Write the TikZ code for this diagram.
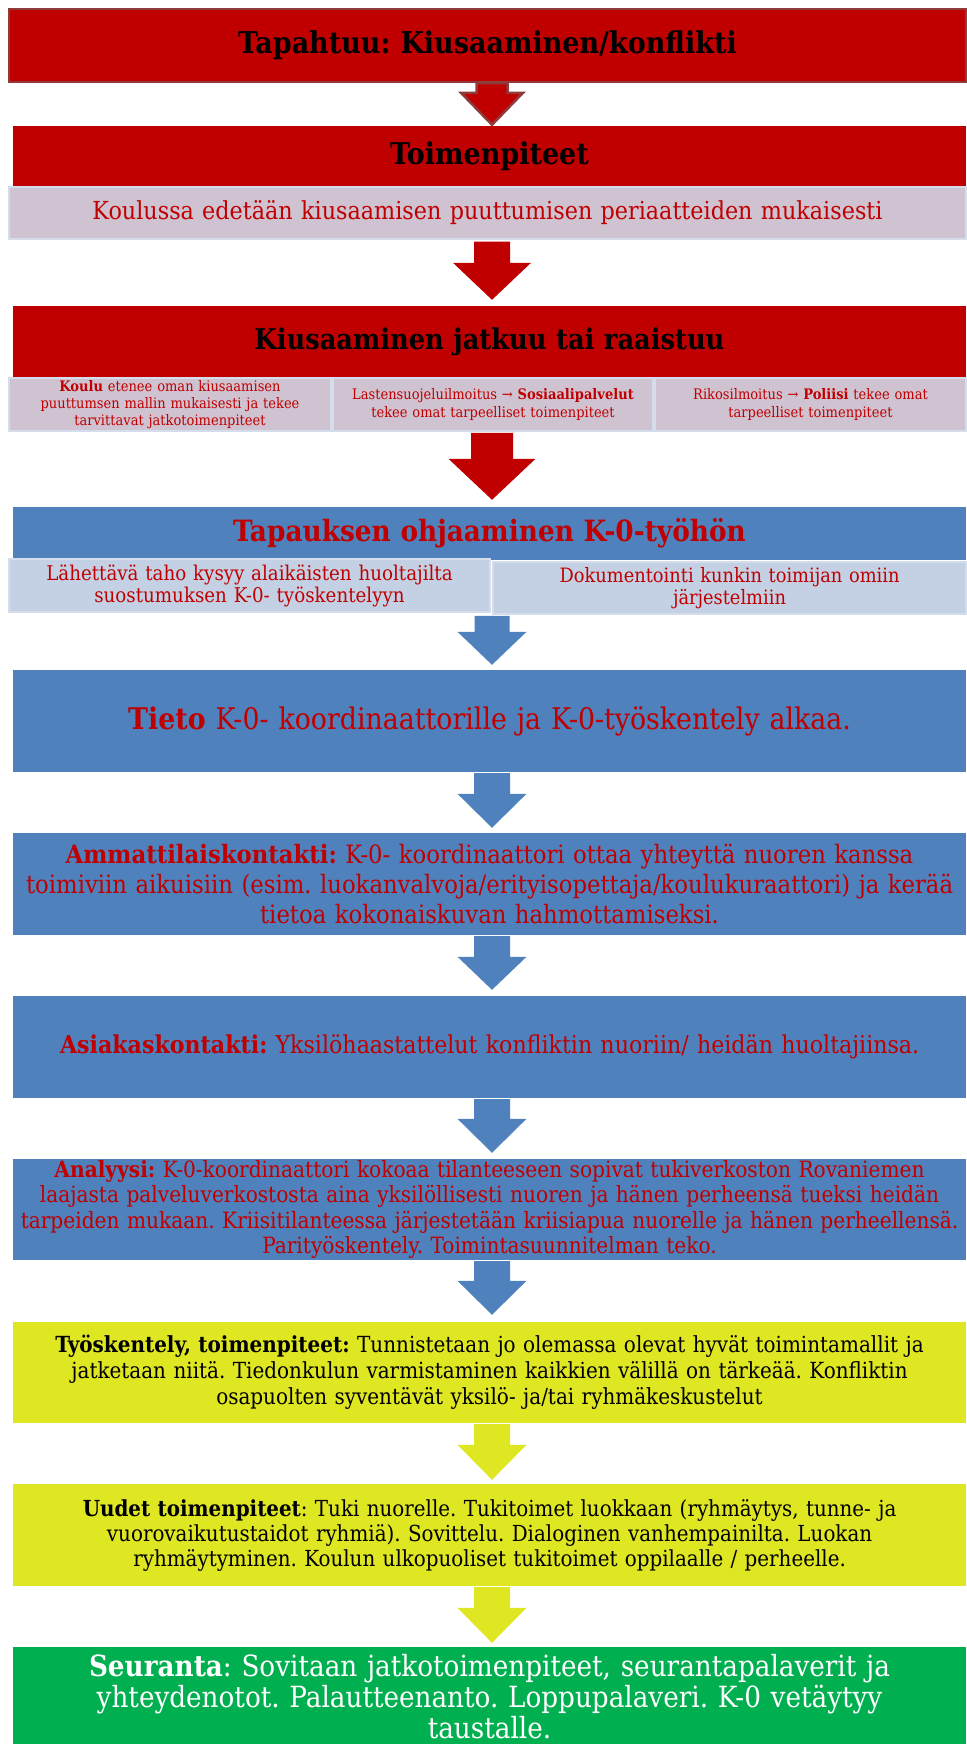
\documentclass[tikz,border=0pt]{standalone}
\usepackage{fontspec}
\setmainfont{DejaVu Serif Condensed}
\usetikzlibrary{calc}
\frenchspacing
\definecolor{rd}{HTML}{C00000}
\definecolor{rdb}{HTML}{8E3B3B}
\definecolor{bl}{HTML}{4F81BD}
\definecolor{lav}{HTML}{CFC2D1}
\definecolor{lbl}{HTML}{C4D0E3}
\definecolor{cellb}{HTML}{D5DCEB}
\definecolor{yl}{HTML}{DFE622}
\definecolor{gr}{HTML}{00B050}
\newcommand\blockarrow[6]{%
  \path[#3] let \p1=(#1), \p2=(#2) in
    (\x1-#4,\y1) -- (\x1+#4,\y1) -- (\x1+#4,\y2+#6) -- (\x1+#5,\y2+#6)
    -- (\x1,\y2) -- (\x1-#5,\y2+#6) -- (\x1-#4,\y2+#6) -- cycle;}
\tikzset{
  box/.style={minimum width=953pt, inner sep=0pt, align=center, text width=950pt},
  redbox/.style={box, fill=rd},
  bluebox/.style={box, fill=bl, text=rd},
  yellowbox/.style={box, fill=yl, text=black},
  greenbox/.style={box, fill=gr, text=white},
  strip/.style={inner sep=0pt, align=center, draw=cellb, line width=1.5pt, text=rd},
  redarrow/.style={fill=rd},
  bluearrow/.style={fill=bl},
  yellowarrow/.style={fill=yl},
  outarrow/.style={fill=rd, draw=rdb, line width=2.5pt, line join=miter},
}
\begin{document}
\begin{tikzpicture}[x=1pt,y=-1pt]
\useasboundingbox (0,0) rectangle (966,1744);
\coordinate (ax) at (492,0);
% boxes
\node[box, fill=rd, draw=rdb, line width=2.5pt, minimum width=957pt, minimum height=73pt,
  font=\fontsize{30}{36}\selectfont\bfseries] (B1) at (487.5,45.5) {Tapahtuu: Kiusaaminen/konflikti};
\node[redbox, minimum height=61pt, font=\fontsize{30}{36}\selectfont\bfseries] (B2) at (489.5,156.5) {Toimenpiteet};
\node[strip, fill=lav, minimum width=957pt, minimum height=52pt, text width=950pt,
  font=\fontsize{24.8}{28}\selectfont] (S2) at (487.5,213) {Koulussa edetään kiusaamisen puuttumisen periaatteiden mukaisesti};
\node[redbox, minimum height=72pt, font=\fontsize{28.6}{34}\selectfont\bfseries] (B3) at (489.5,342) {Kiusaaminen jatkuu tai raaistuu};
\node[strip, fill=lav, minimum width=322pt, minimum height=53pt, text width=318pt,
  font=\fontsize{14.5}{17}\selectfont] (C3a) at (170,404.5)
  {{\bfseries Koulu} etenee oman kiusaamisen\\puuttumsen mallin mukaisesti ja tekee\\tarvittavat jatkotoimenpiteet};
\node[strip, fill=lav, minimum width=320pt, minimum height=53pt, text width=316pt,
  font=\fontsize{14.5}{17.5}\selectfont] (C3b) at (493,404.5)
  {Lastensuojeluilmoitus → {\bfseries Sosiaalipalvelut}\\tekee omat tarpeelliset toimenpiteet};
\node[strip, fill=lav, minimum width=311pt, minimum height=53pt, text width=307pt,
  font=\fontsize{14.5}{17.5}\selectfont] (C3c) at (810.5,404.5)
  {Rikosilmoitus → {\bfseries Poliisi} tekee omat\\tarpeelliset toimenpiteet};
\node[bluebox, minimum height=53pt, font=\fontsize{29.3}{34}\selectfont\bfseries] (B4) at (489.5,533.5) {Tapauksen ohjaaminen K-0-työhön};
\node[strip, fill=lbl, minimum width=481pt, minimum height=53pt, text width=477pt,
  font=\fontsize{20.3}{22}\selectfont] (C4a) at (249.5,585.5)
  {Lähettävä taho kysyy alaikäisten huoltajilta\\suostumuksen K-0- työskentelyyn};
\node[strip, fill=lbl, minimum width=473pt, minimum height=52pt, text width=469pt,
  font=\fontsize{19.8}{22}\selectfont] (C4b) at (729.5,588)
  {Dokumentointi kunkin toimijan omiin\\järjestelmiin};
\node[bluebox, minimum height=102pt, font=\fontsize{29.8}{34}\selectfont] (B5) at (489.5,721)
  {\raisebox{-3pt}{{\bfseries Tieto} K-0- koordinaattorille ja K-0-työskentely alkaa.}};
\node[bluebox, minimum height=102pt, font=\fontsize{25.3}{30}\selectfont] (B6) at (489.5,884)
  {{\bfseries Ammattilaiskontakti:} K-0- koordinaattori ottaa yhteyttä nuoren kanssa\\toimiviin aikuisiin (esim. luokanvalvoja/erityisopettaja/koulukuraattori) ja kerää\\tietoa kokonaiskuvan hahmottamiseksi.};
\node[bluebox, minimum height=102pt, font=\fontsize{24.6}{28}\selectfont] (B7) at (489.5,1047)
  {{\bfseries Asiakaskontakti:} Yksilöhaastattelut konfliktin nuoriin/ heidän huoltajiinsa.};
\node[bluebox, minimum height=101pt, font=\fontsize{22.4}{25.5}\selectfont] (B8) at (489.5,1209.5)
  {{\bfseries Analyysi:} K-0-koordinaattori kokoaa tilanteeseen sopivat tukiverkoston Rovaniemen\\laajasta palveluverkostosta aina yksilöllisesti nuoren ja hänen perheensä tueksi heidän\\tarpeiden mukaan. Kriisitilanteessa järjestetään kriisiapua nuorelle ja hänen perheellensä.\\Parityöskentely. Toimintasuunnitelman teko.};
\node[yellowbox, minimum height=101pt, font=\fontsize{22.2}{26}\selectfont] (B9) at (489.5,1372.5)
  {{\bfseries Työskentely, toimenpiteet:} Tunnistetaan jo olemassa olevat hyvät toimintamallit ja\\jatketaan niitä. Tiedonkulun varmistaminen kaikkien välillä on tärkeää. Konfliktin\\osapuolten syventävät yksilö- ja/tai ryhmäkeskustelut};
\node[yellowbox, minimum height=102pt, font=\fontsize{22.1}{25}\selectfont] (B10) at (489.5,1535)
  {{\bfseries Uudet toimenpiteet}: Tuki nuorelle. Tukitoimet luokkaan (ryhmäytys, tunne- ja\\vuorovaikutustaidot ryhmiä). Sovittelu. Dialoginen vanhempainilta. Luokan\\ryhmäytyminen. Koulun ulkopuoliset tukitoimet oppilaalle / perheelle.};
\node[greenbox, minimum height=99pt, font=\fontsize{29.2}{31}\selectfont] (B11) at (489.5,1696.5)
  {{\bfseries Seuranta}: Sovitaan jatkotoimenpiteet, seurantapalaverit ja\\yhteydenotot. Palautteenanto. Loppupalaveri. K-0 vetäytyy\\taustalle.};
% arrows
\blockarrow{$(B1.south -| ax)$}{$(B2.north -| ax)+(0,1pt)$}{outarrow}{15.5pt}{31pt}{32pt}
\blockarrow{$(S2.south -| ax)+(0,-2pt)$}{$(B3.north -| ax)+(0,6pt)$}{redarrow}{18pt}{39pt}{37pt}
\blockarrow{$(C3b.south -| ax)+(0,-1pt)$}{$(B4.north -| ax)+(0,7pt)$}{redarrow}{21pt}{43.5pt}{41pt}
\blockarrow{$(C4b.south -| ax)+(0,-1pt)$}{$(B5.north -| ax)+(0,5pt)$}{bluearrow}{17.5pt}{34.5pt}{33pt}
\blockarrow{$(B5.south -| ax)+(0,-1pt)$}{$(B6.north -| ax)+(0,5pt)$}{bluearrow}{18pt}{34.5pt}{34pt}
\blockarrow{$(B6.south -| ax)+(0,-1pt)$}{$(B7.north -| ax)+(0,6pt)$}{bluearrow}{18pt}{34.5pt}{33pt}
\blockarrow{$(B7.south -| ax)+(0,-1pt)$}{$(B8.north -| ax)+(0,6pt)$}{bluearrow}{18pt}{34.5pt}{34pt}
\blockarrow{$(B8.south -| ax)+(0,-1pt)$}{$(B9.north -| ax)+(0,7pt)$}{bluearrow}{18pt}{34.5pt}{34pt}
\blockarrow{$(B9.south -| ax)+(0,-1pt)$}{$(B10.north -| ax)+(0,4pt)$}{yellowarrow}{18pt}{34.5pt}{35pt}
\blockarrow{$(B10.south -| ax)+(0,-1pt)$}{$(B11.north -| ax)+(0,4pt)$}{yellowarrow}{18pt}{34.5pt}{35pt}
\end{tikzpicture}
\end{document}
